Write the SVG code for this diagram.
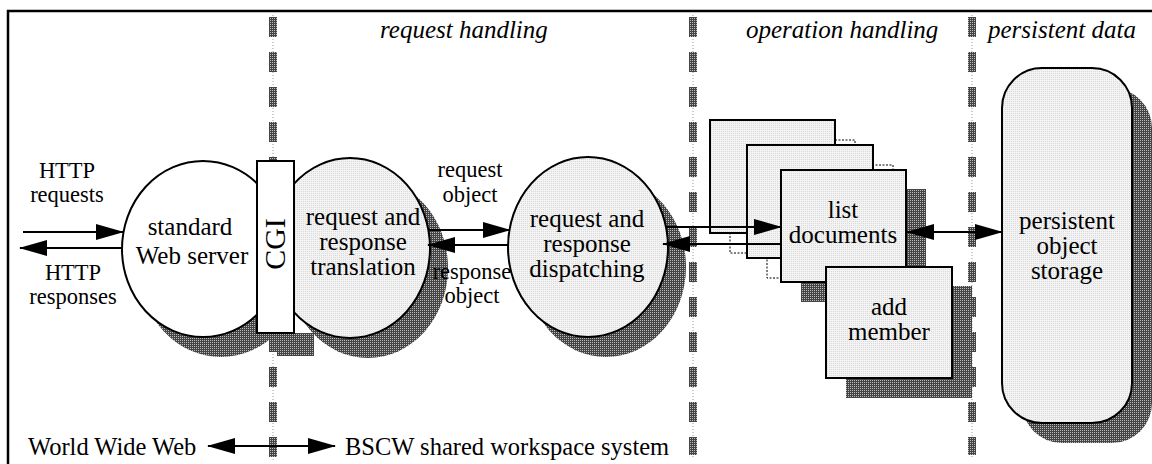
<svg xmlns="http://www.w3.org/2000/svg" width="1152" height="464" viewBox="0 0 1152 464">
<defs>
<pattern id="dk" width="2" height="2" patternUnits="userSpaceOnUse"><rect width="2" height="2" fill="#444"/><rect width="1" height="1" fill="#bbb"/></pattern>
<pattern id="lt" width="2" height="2" patternUnits="userSpaceOnUse"><rect width="2" height="2" fill="#f3f3f3"/><rect x="1" y="1" width="1" height="1" fill="#dadada"/></pattern>
<marker id="ah" viewBox="0 0 28 16" refX="27" refY="8" markerWidth="28" markerHeight="16" markerUnits="userSpaceOnUse" orient="auto-start-reverse"><path d="M0,0 L28,8 L0,16 z" fill="#000"/></marker>
</defs>
<style>
.t{font-family:"Liberation Serif","Times New Roman",serif;fill:#000;text-anchor:middle}
.n{font-size:25px}
.s{font-size:22.5px}
.h{font-size:25px;font-style:italic;text-anchor:start}
.b{font-size:24.5px;text-anchor:start}
.ol{stroke:#000;stroke-width:2}
.lf{fill:url(#lt)}
.sh{fill:url(#dk)}
.sep{stroke:url(#dk);stroke-width:8;stroke-dasharray:20 15;fill:none}
.dot{stroke:#999;stroke-width:1;stroke-dasharray:1 2;fill:none}
.ar{stroke:#000;stroke-width:2;fill:none}
.dsh{fill:#fff;stroke:#000;stroke-width:1;stroke-dasharray:2 1.5}
</style>
<rect width="1152" height="464" fill="#fff"/>
<g id="frame">
<path d="M8,464 V11 H1152" fill="none" stroke="#000" stroke-width="2.5"/>
</g>
<g id="separators">
<line class="dot" x1="273" y1="15" x2="273" y2="460"/>
<line class="sep" x1="273" y1="17" x2="273" y2="457"/>
<line class="dot" x1="693" y1="15" x2="693" y2="458"/>
<line class="sep" x1="693" y1="17" x2="693" y2="455"/>
<line class="dot" x1="972" y1="15" x2="972" y2="458"/>
<line class="sep" x1="972" y1="17" x2="972" y2="455"/>
</g>
<g id="section-labels">
<text class="t h" x="380" y="38">request handling</text>
<text class="t h" x="746" y="38">operation handling</text>
<text class="t h" x="988" y="38">persistent data</text>
</g>
<g id="web-server">
<ellipse class="sh" cx="221" cy="269" rx="81" ry="88"/>
<ellipse class="ol" cx="203" cy="249" rx="81" ry="88" fill="#fff"/>
<text class="t n" x="190" y="235">standard</text>
<text class="t n" x="192" y="264">Web server</text>
</g>
<g id="translation">
<ellipse class="sh" cx="368" cy="268" rx="80" ry="90"/>
<ellipse class="ol lf" cx="350" cy="248" rx="80" ry="90"/>
<text class="t n" x="363" y="225">request and</text>
<text class="t n" x="363" y="250">response</text>
<text class="t n" x="363" y="275">translation</text>
</g>
<g id="cgi">
<rect class="sh" x="277" y="333" width="37" height="23"/>
<rect class="ol" x="257" y="161" width="37" height="172" fill="#fff"/>
<text class="t" font-size="30" transform="translate(285,244) rotate(-90)">CGI</text>
</g>
<g id="dispatching">
<ellipse class="sh" cx="606" cy="267" rx="80" ry="90"/>
<ellipse class="ol lf" cx="588" cy="247" rx="80" ry="90"/>
<text class="t n" x="587" y="227">request and</text>
<text class="t n" x="587" y="252">response</text>
<text class="t n" x="587" y="277">dispatching</text>
</g>
<g id="operation-back-1">
<rect class="dsh" x="730" y="140" width="125" height="113"/>
<rect class="ol lf" x="710" y="120" width="125" height="113"/>
</g>
<g id="operation-back-2">
<rect class="dsh" x="767" y="165" width="126" height="113"/>
<rect class="ol lf" x="747" y="145" width="126" height="113"/>
</g>
<g id="list-documents">
<rect class="sh" x="801" y="189" width="125" height="113"/>
<rect class="ol lf" x="781" y="170" width="125" height="112"/>
<text class="t n" x="843" y="218">list</text>
<text class="t n" x="843" y="243">documents</text>
</g>
<g id="add-member">
<rect class="sh" x="846" y="286" width="126" height="112"/>
<rect class="ol lf" x="826" y="267" width="126" height="111"/>
<text class="t n" x="889" y="315">add</text>
<text class="t n" x="889" y="340">member</text>
</g>
<g id="storage">
<rect class="sh" x="1022" y="88" width="130" height="355" rx="40" ry="40"/>
<rect class="ol lf" x="1002" y="68" width="130" height="355" rx="40" ry="40"/>
<text class="t n" x="1067" y="229">persistent</text>
<text class="t n" x="1067" y="254">object</text>
<text class="t n" x="1067" y="279">storage</text>
</g>
<g id="connectors">
<line class="ar" x1="23" y1="232" x2="123" y2="232" marker-end="url(#ah)"/>
<line class="ar" x1="122" y1="248" x2="20" y2="248" marker-end="url(#ah)"/>
<line class="ar" x1="428" y1="230" x2="510" y2="230" marker-end="url(#ah)"/>
<line class="ar" x1="509" y1="245" x2="428" y2="245" marker-end="url(#ah)"/>
<line class="ar" x1="666" y1="227" x2="781" y2="227" marker-end="url(#ah)"/>
<line class="ar" x1="781" y1="244" x2="663" y2="244" marker-end="url(#ah)"/>
<line class="ar" x1="907" y1="232" x2="1002" y2="232" marker-start="url(#ah)" marker-end="url(#ah)"/>
<line class="ar" x1="208" y1="446" x2="335" y2="446" marker-start="url(#ah)" marker-end="url(#ah)"/>
</g>
<g id="connector-labels">
<text class="t s" x="67" y="178">HTTP</text>
<text class="t s" x="67" y="202">requests</text>
<text class="t s" x="73" y="280">HTTP</text>
<text class="t s" x="73" y="304">responses</text>
<text class="t s" x="470" y="177">request</text>
<text class="t s" x="470" y="202">object</text>
<text class="t s" x="472" y="279">response</text>
<text class="t s" x="472" y="303">object</text>
</g>
<g id="bottom-labels">
<text class="t b" x="28" y="455">World Wide Web</text>
<text class="t b" x="345" y="455">BSCW shared workspace system</text>
</g>
</svg>
